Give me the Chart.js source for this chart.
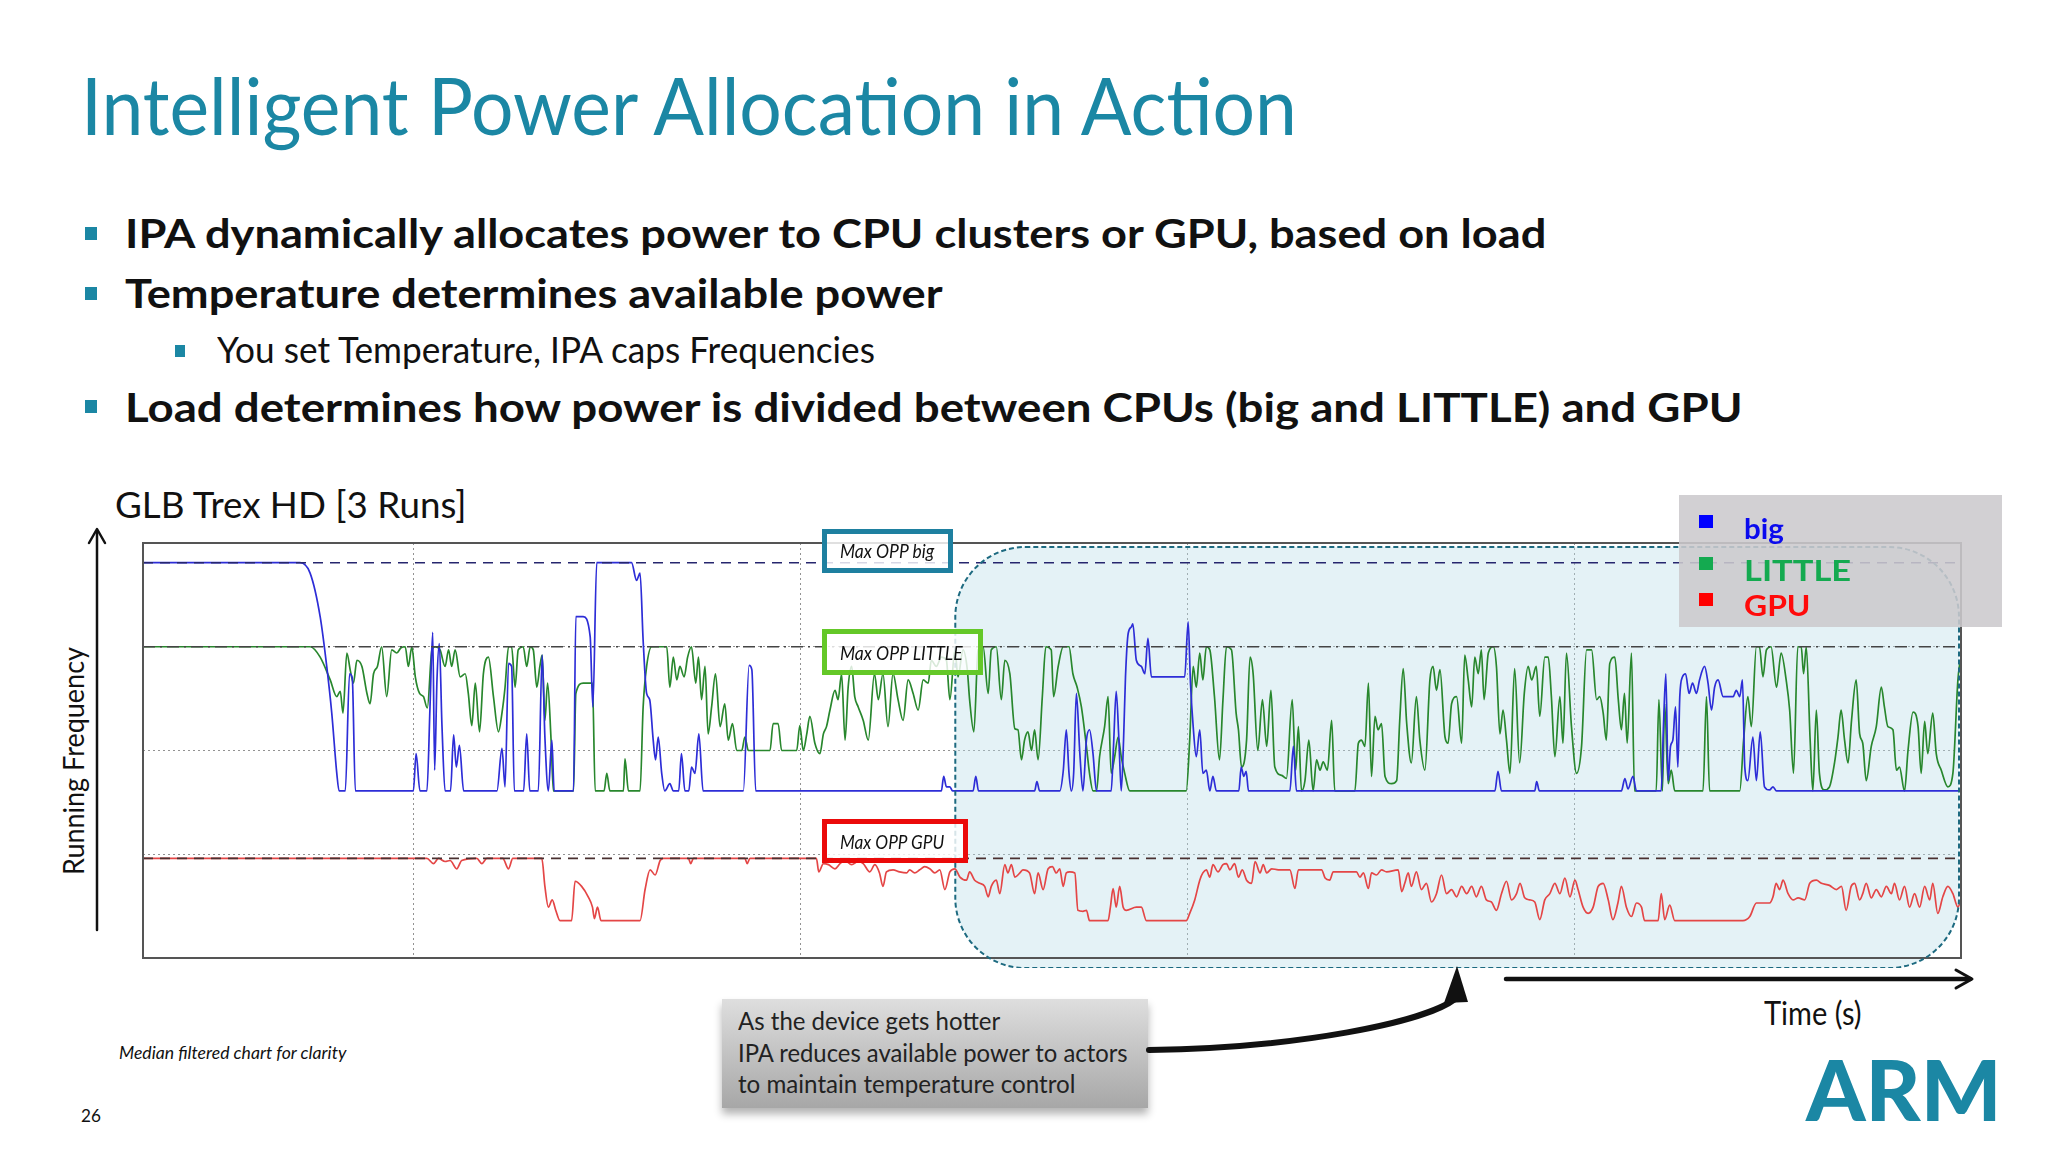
<!DOCTYPE html>
<html>
<head>
<meta charset="utf-8">
<script src="https://cdn.jsdelivr.net/npm/chart.js@4/dist/chart.umd.min.js"></script>
<style>
  body { margin: 0; width: 2048px; height: 1152px; background: #fff; position: relative; overflow: hidden; font-family: Lato, "Noto Sans", sans-serif; color: #111; }
  .t { position: absolute; white-space: nowrap; line-height: 1; transform-origin: 0 0; }
  .teal { color: #1b87a4; }
  .b { font-weight: 700; }
  .sq { position: absolute; background: #1b87a4; }
  #chart { position: absolute; left: 133px; top: 533px; }
  .opp { position: absolute; box-sizing: border-box; border: 5px solid; background: rgba(255,255,255,0.82); z-index: 3; }
  .oppt { font-style: italic; font-size: 19px; z-index: 4; }
  #legend { position: absolute; left: 1679px; top: 495px; width: 323px; height: 132px; background: rgba(204,202,205,0.88); z-index: 3; }
  .lg { position: absolute; width: 14px; height: 13px; z-index: 4; }
  .lt { font-size: 28px; font-weight: 700; z-index: 4; }
  #callout { position: absolute; left: 722px; top: 999px; width: 426px; height: 109px; background: linear-gradient(#dedede, #a7a7a7); box-shadow: 0 6px 8px rgba(0,0,0,0.3); }
  .ct { font-size: 25px; color: #222; z-index: 2; }
  svg { position: absolute; left: 0; top: 0; z-index: 5; }
</style>
</head>
<body>

<div class="t teal" style="font-size:80px;left:81px;top:64px" data-w="1216">Intelligent Power Allocation in Action</div>

<div class="sq" style="left:85px;top:227px;width:12px;height:13px"></div>
<div class="t b" style="font-size:40px;left:125px;top:213px" data-w="1421">IPA dynamically allocates power to CPU clusters or GPU, based on load</div>
<div class="sq" style="left:85px;top:287px;width:12px;height:13px"></div>
<div class="t b" style="font-size:40px;left:125px;top:273px" data-w="818">Temperature determines available power</div>
<div class="sq" style="left:175px;top:345px;width:10px;height:12px"></div>
<div class="t" style="font-size:36px;left:217px;top:331px" data-w="658">You set Temperature, IPA caps Frequencies</div>
<div class="sq" style="left:85px;top:400px;width:12px;height:13px"></div>
<div class="t b" style="font-size:40px;left:125px;top:387px" data-w="1617">Load determines how power is divided between CPUs (big and LITTLE) and GPU</div>

<div class="t" style="font-size:36px;left:115px;top:486px" data-w="351">GLB Trex HD [3 Runs]</div>
<div style="position:absolute;left:72px;top:761px;width:0;height:0">
  <div class="t" id="ylab" style="font-size:29px;transform-origin:50% 50%" data-w="228" data-rot="1">Running Frequency</div>
</div>

<canvas id="chart" width="1838" height="435"></canvas>

<div class="opp" style="left:822px;top:529px;width:131px;height:44px;border-color:#1e80a0"></div>
<div class="t oppt" style="left:840px;top:541px" data-w="94">Max OPP big</div>
<div class="opp" style="left:822px;top:629px;width:161px;height:46px;border-color:#64c828"></div>
<div class="t oppt" style="left:840px;top:643px" data-w="123">Max OPP LITTLE</div>
<div class="opp" style="left:822px;top:819px;width:146px;height:44px;border-color:#eb0a0a"></div>
<div class="t oppt" style="left:840px;top:832px" data-w="104">Max OPP GPU</div>

<div id="legend"></div>
<div class="lg" style="left:1699px;top:515px;background:#0000ff"></div>
<div class="t lt" style="left:1744px;top:514px;color:#0a0aee" data-w="40">big</div>
<div class="lg" style="left:1699px;top:557px;background:#14aa50"></div>
<div class="t lt" style="left:1744px;top:556px;color:#14aa50" data-w="107">LITTLE</div>
<div class="lg" style="left:1699px;top:593px;background:#ff0000"></div>
<div class="t lt" style="left:1744px;top:591px;color:#ff0a0a" data-w="66">GPU</div>

<div class="t" style="font-size:32px;left:1764px;top:997px" data-w="98">Time (s)</div>

<div id="callout"></div>
<div class="t ct" style="left:738px;top:1008px" data-w="262">As the device gets hotter</div>
<div class="t ct" style="left:738px;top:1040px" data-w="390">IPA reduces available power to actors</div>
<div class="t ct" style="left:738px;top:1071px" data-w="337">to maintain temperature control</div>

<div class="t" style="font-size:18px;font-style:italic;left:119px;top:1043px" data-w="227">Median filtered chart for clarity</div>
<div class="t" style="font-size:18px;left:81px;top:1106px" data-w="20">26</div>
<div class="t teal" style="font-size:84px;font-weight:900;left:1806px;top:1047px" data-w="195">ARM</div>

<svg width="2048" height="1152">
  <g stroke="#111" fill="none" stroke-linecap="round" stroke-linejoin="round">
    <line x1="97" y1="930" x2="97" y2="531" stroke-width="2.5"/>
    <polyline points="89,543 97,529 105,543" stroke-width="2.5"/>
    <line x1="1506" y1="979" x2="1970" y2="979" stroke-width="4.5"/>
    <polyline points="1956,970 1972,979 1956,988" stroke-width="3"/>
    <path d="M1149,1050 C1300,1048 1425,1022 1455,999" stroke-width="6"/>
  </g>
  <polygon points="1457,966 1444,1003 1468,1002" fill="#111"/>
</svg>

<script>
// axis ranges and grid (time units, frequency units)
const xMin = 0, xMax = 470;
const xGrid = [70, 170, 270, 370];
const yMin = 0, yMax = 4;
const yGrid = [1, 2, 3];

// max operating points
const oppBig = 3.81;
const oppLittle = 3.0;
const oppGpu = 0.96;

// start of the "device gets hotter" zone
const hotStart = 210;

// big cluster frequency [time, freq]
const bigTrace = [[0,3.81],[40.6,3.81],[43.2,3.71],[45.8,3.29],[47.5,2.81],[48.8,2.36],[50.1,1.78],[50.7,1.61],[52.3,1.61],[53.4,2.74],[54.1,2.70],[54.9,1.61],[69.9,1.61],[70.6,1.97],[71.6,1.61],[73.4,1.61],[74.2,2.42],[74.9,3.14],[75.4,1.81],[76,2.68],[76.6,3.03],[77.3,2.23],[78.1,1.61],[79.5,1.61],[80.3,2.15],[81,1.84],[81.8,2.05],[82.9,1.61],[91.5,1.61],[92.8,2.02],[93.6,1.65],[94.5,2.84],[95.3,2.81],[96,1.61],[98.4,1.61],[99.2,2.16],[100,1.61],[102.2,1.61],[103.2,2.92],[103.9,2.13],[104.8,1.61],[105.7,2.10],[106.3,1.61],[111.3,1.61],[111.9,3.29],[113.8,3.29],[115.6,3.10],[116.3,2.42],[117.3,3.81],[126.3,3.81],[127.6,3.64],[128.5,3.71],[129.3,3.06],[130.2,2.55],[131,2.49],[131.9,2.10],[132.5,1.91],[133.2,2.13],[134.1,1.78],[134.9,1.61],[136.2,1.68],[137.1,1.61],[138.5,1.61],[139.2,1.97],[140.1,1.61],[141.1,1.61],[141.8,1.84],[142.7,1.78],[143.7,2.16],[144.8,1.61],[155.2,1.61],[156.7,2.82],[157.4,2.78],[158.4,1.61],[206.4,1.61],[207,1.75],[207.7,1.65],[208.6,1.65],[209.3,1.61],[214.6,1.61],[215.3,1.75],[216,1.61],[230.5,1.61],[231.1,1.70],[231.8,1.61],[237,1.61],[237.9,1.80],[238.7,2.20],[239.4,1.78],[240,1.61],[240.6,1.78],[241.3,2.55],[242.2,1.97],[243,1.61],[243.9,2.10],[244.7,2.20],[245.6,1.97],[246.5,1.61],[250.3,1.61],[250.9,2.04],[251.6,2.57],[252.3,2.10],[252.9,1.61],[253.5,2.10],[254,2.71],[254.7,3.13],[255.5,3.19],[255.9,3.22],[256.8,2.87],[258.1,2.81],[259,2.74],[259.8,3.08],[260.7,2.71],[269.3,2.71],[270.2,3.24],[270.8,2.65],[271.5,2.23],[272.3,1.94],[273.2,2.20],[274,1.78],[274.9,1.81],[275.8,1.61],[276.6,1.75],[277.5,1.61],[283.3,1.61],[283.9,1.84],[284.6,1.75],[285.2,1.80],[285.8,1.61],[296.5,1.61],[297.4,2.04],[298.2,1.61],[349.5,1.61],[350.3,1.80],[351.2,1.61],[359.8,1.61],[360.3,1.70],[361,1.61],[382.2,1.61],[383.1,1.73],[383.9,1.63],[385.2,1.75],[386.1,1.61],[392.5,1.61],[393.1,2.26],[393.7,2.74],[394.3,1.71],[394.9,2.04],[395.5,2.10],[396.2,2.42],[396.8,1.84],[397.3,2.52],[398,2.71],[398.8,2.74],[399.7,2.55],[400.6,2.65],[401.6,2.55],[402.4,2.68],[403.7,2.81],[404.6,2.65],[405.5,2.39],[406.3,2.61],[407.2,2.68],[408.5,2.52],[411.1,2.52],[411.9,2.58],[412.8,2.52],[413.5,2.68],[414.1,1.84],[414.9,1.71],[416.2,2.13],[417.1,1.71],[418.1,2.18],[419.2,1.65],[420.5,1.62],[421.4,1.65],[422.3,1.61],[470,1.61]];

// LITTLE cluster frequency [time, freq]
const littleTrace = [[0,3.00],[43.2,3.00],[45.8,2.90],[48.4,2.68],[50.1,2.52],[51,2.57],[51.7,2.36],[52.7,2.94],[53.6,2.77],[54.4,2.65],[55.3,2.87],[56.6,2.81],[57.9,2.55],[58.7,2.45],[59.6,2.74],[60.6,2.81],[61.7,3.00],[63,2.52],[64.3,2.97],[65.6,2.94],[66.7,2.99],[67.8,3.00],[68.6,2.81],[69.5,3.00],[70.4,2.71],[71.5,2.55],[72.5,2.52],[73.5,2.41],[74.7,2.97],[75.5,3.00],[76.8,2.97],[78.1,2.81],[79,2.97],[79.8,2.81],[80.7,2.97],[82,2.71],[83.3,2.74],[84.1,2.55],[85,2.24],[85.9,2.65],[87,2.18],[88,2.74],[89.3,2.90],[90.6,2.52],[91.9,2.18],[92.8,2.36],[93.6,2.61],[94.5,3.00],[95.3,3.00],[96.2,2.61],[97,2.97],[98.3,3.00],[99.2,2.81],[100.1,3.00],[100.9,2.97],[101.8,2.61],[102.6,2.81],[103.2,2.92],[103.9,2.29],[104.6,2.65],[105.5,2.10],[106.1,1.61],[111.3,1.61],[111.9,2.55],[113.8,2.65],[116.2,2.65],[116.9,1.61],[119.2,1.61],[119.9,1.78],[120.7,1.61],[124.2,1.61],[124.6,1.92],[125.5,1.61],[128.5,1.61],[129.3,2.42],[130.2,2.81],[131.5,3.00],[135.4,3.00],[136.2,2.61],[137.1,2.90],[138,2.68],[138.8,2.81],[139.9,2.71],[140.8,2.90],[141.8,3.00],[142.9,2.65],[143.6,2.90],[144.4,2.49],[145.3,2.81],[146.1,2.16],[147,2.42],[148,2.74],[149.2,2.23],[150.4,2.45],[151.3,2.10],[152.4,2.26],[153.5,2.00],[154.8,2.00],[155.6,2.13],[156.5,2.00],[162.1,2.00],[162.9,2.26],[164.2,2.26],[165.1,2.00],[169,2.00],[169.8,2.24],[170.7,2.00],[171.6,2.16],[172.4,2.33],[173.7,2.07],[175,1.97],[175.9,2.16],[176.7,2.23],[177.6,2.39],[178.9,2.58],[179.7,2.49],[180.6,2.74],[181.5,2.10],[182.3,2.61],[183.2,2.81],[184,2.52],[184.9,2.42],[186.2,2.29],[187.5,2.10],[189.1,2.74],[190.1,2.49],[191.3,2.74],[192.6,2.23],[193.9,2.74],[195.2,2.49],[196.5,2.29],[197.8,2.68],[199.1,2.55],[200.4,2.39],[201.7,2.68],[203,2.65],[203.8,2.87],[205.1,2.81],[206.4,2.90],[207.7,2.87],[208.6,2.49],[209.9,2.97],[210.7,2.71],[212,2.97],[213.1,2.78],[213.7,2.49],[214.8,2.18],[215.9,2.97],[217.2,3.00],[218.5,2.55],[219.3,2.97],[220.6,3.00],[221.9,2.49],[222.8,2.87],[224.1,2.74],[225.4,2.21],[226.2,2.20],[227.1,1.91],[227.9,2.10],[228.8,2.18],[229.7,2.00],[230.5,2.20],[231.4,1.91],[232.5,2.52],[233.4,3.00],[234.8,2.97],[235.4,2.52],[236.6,2.81],[237.9,3.00],[239.4,3.00],[240.4,2.74],[241.5,2.61],[242.6,2.42],[243.9,2.04],[244.7,1.78],[245.6,1.61],[246.5,1.61],[247.3,1.94],[248.6,2.23],[249.5,2.52],[250.3,1.78],[251.2,1.94],[252.1,2.13],[252.9,1.94],[253.8,1.78],[255.1,1.61],[269.7,1.61],[270.6,2.10],[271.5,2.81],[272.3,2.61],[273.2,2.94],[274,2.68],[274.9,3.00],[275.8,2.97],[277,2.52],[278.3,1.91],[279.2,2.49],[280.1,3.00],[281.4,2.97],[282.6,2.36],[283.2,2.20],[284,1.84],[285.3,2.10],[286.2,2.90],[287,2.74],[288.2,2.00],[289.4,2.49],[290.5,2.04],[291.6,2.58],[292.6,1.84],[294.4,1.76],[295.6,1.73],[297.1,2.49],[298,1.81],[298.7,2.23],[299.5,1.61],[300.4,1.71],[301.4,2.10],[302.5,1.61],[303.4,1.91],[304.3,1.81],[305.1,1.89],[306.2,1.81],[307.3,2.29],[308.1,1.61],[313.3,1.61],[314.2,2.07],[315,2.10],[315.9,2.04],[316.8,2.65],[317.6,1.75],[318.5,2.33],[319.3,2.20],[320.2,2.26],[321.1,1.75],[322.8,1.68],[324.1,1.71],[324.9,2.29],[325.8,2.79],[326.7,2.26],[327.9,1.88],[329.2,2.52],[330.1,2.10],[331.4,1.81],[332.7,2.68],[333.5,2.81],[334.4,2.58],[335.3,2.78],[336.6,2.13],[337.4,2.07],[338.3,2.45],[339.6,2.52],[340.9,2.07],[341.7,2.92],[342.6,2.68],[343.5,2.42],[344.3,2.90],[345.2,2.74],[346,2.97],[346.7,2.49],[347.8,2.94],[349.1,3.00],[349.9,2.81],[350.8,2.16],[351.6,2.39],[352.5,2.10],[353.4,1.78],[354.6,2.79],[355.9,1.88],[357.1,2.55],[358.1,2.81],[359,2.68],[360.2,2.81],[361.1,2.33],[362.4,2.90],[363.3,2.90],[364.1,2.52],[365,1.94],[366.3,2.52],[367.1,2.07],[368,2.94],[369.3,2.23],[370.6,1.78],[371.9,2.04],[373.2,2.97],[374.5,2.97],[375.8,2.49],[376.6,2.52],[377.5,2.36],[378.3,2.10],[379.2,2.84],[380.5,2.90],[381.4,2.49],[382.2,2.20],[383,2.55],[383.7,2.07],[384.8,2.94],[385.6,1.61],[391.2,1.61],[391.9,2.49],[392.8,1.61],[393.4,2.45],[394.3,1.68],[395.1,1.81],[396,1.61],[403.3,1.61],[404.2,2.52],[405,1.61],[412.8,1.61],[413.8,2.10],[414.9,2.52],[415.8,2.23],[417.1,3.00],[417.9,3.00],[418.8,2.71],[419.7,2.97],[420.9,3.00],[422.3,2.61],[423.5,2.94],[424.8,2.68],[425.7,2.39],[426.7,1.78],[427.8,3.00],[428.7,3.00],[429.3,2.74],[430,3.00],[431,2.10],[431.7,1.61],[432.6,2.39],[433.4,1.78],[434.7,1.62],[436,1.65],[437.3,1.88],[438.2,2.13],[439,2.39],[439.9,2.10],[440.8,1.88],[441.7,2.29],[442.9,2.68],[443.8,2.16],[444.6,2.07],[445.5,1.71],[446.8,2.04],[448.1,2.23],[449.4,2.61],[450.2,2.42],[451.1,2.23],[452.4,2.20],[453.3,1.81],[454.1,1.84],[455.4,1.61],[456.3,2.00],[457.6,2.37],[458.9,2.23],[459.7,1.78],[460.6,2.28],[461.4,1.97],[462.7,2.36],[463.6,1.97],[464.9,1.81],[466.6,1.65],[467.9,1.78],[469.2,2.68],[469.8,2.87]];

// GPU frequency [time, freq]
const gpuTrace = [[0,0.96],[73.4,0.96],[75.1,0.91],[76.4,0.96],[78.1,0.93],[79.4,0.94],[81.1,0.86],[82.4,0.94],[86.3,0.96],[87.6,0.91],[88.9,0.96],[93,0.96],[94.5,0.86],[95.6,0.96],[103.1,0.96],[103.9,0.69],[104.8,0.49],[105.8,0.56],[106.7,0.46],[107.8,0.36],[110.8,0.36],[111.7,0.74],[113.4,0.69],[115.1,0.59],[116.2,0.49],[116.7,0.38],[117.5,0.49],[118.4,0.36],[128.5,0.36],[129.8,0.66],[131.1,0.85],[132.4,0.80],[133.7,0.94],[134.5,0.96],[141,0.96],[141.6,0.91],[142.3,0.96],[155.6,0.96],[156.2,0.91],[156.9,0.96],[174.1,0.96],[174.7,0.83],[175.9,0.91],[177.2,0.90],[178.9,0.86],[180.2,0.91],[181.5,0.94],[183.2,0.90],[184.9,0.93],[186.2,0.91],[187.9,0.83],[189.2,0.90],[190.4,0.82],[191.3,0.69],[192.2,0.83],[193.9,0.85],[195.6,0.83],[197.4,0.82],[198.2,0.85],[199.5,0.82],[200.8,0.85],[202.1,0.88],[203.4,0.86],[204.7,0.82],[206,0.85],[207.3,0.66],[208.6,0.83],[209.9,0.86],[211.2,0.78],[212.9,0.75],[213.7,0.83],[215,0.75],[216.3,0.72],[217.6,0.69],[218.5,0.59],[219.3,0.69],[220.6,0.75],[221.5,0.62],[222.8,0.90],[223.6,0.82],[224.5,0.90],[225.4,0.78],[226.7,0.82],[227.5,0.85],[229.2,0.82],[230.5,0.62],[231.4,0.82],[232.7,0.66],[234,0.86],[235.1,0.88],[236.1,0.82],[237,0.86],[237.9,0.69],[238.7,0.82],[239.6,0.83],[240.9,0.82],[241.7,0.46],[243,0.45],[243.9,0.46],[244.7,0.36],[249.5,0.36],[250.1,0.49],[250.8,0.67],[251.6,0.49],[252.5,0.69],[253.4,0.49],[254.2,0.46],[256.8,0.49],[258.1,0.49],[259.4,0.36],[269.7,0.36],[270.6,0.43],[271.9,0.56],[273.2,0.75],[274,0.82],[274.9,0.85],[275.8,0.78],[276.6,0.90],[277.9,0.83],[279.2,0.90],[280.1,0.91],[281,0.85],[282.2,0.91],[283.2,0.78],[284.2,0.85],[285.3,0.75],[286.6,0.72],[287.5,0.93],[288.8,0.82],[289.6,0.90],[290.5,0.82],[291.8,0.86],[293.5,0.85],[296.5,0.85],[297.8,0.67],[298.7,0.85],[304.7,0.85],[305.6,0.77],[306.8,0.75],[307.7,0.83],[313.7,0.83],[314.6,0.78],[315.5,0.82],[316.8,0.67],[317.6,0.82],[318.9,0.80],[320.2,0.85],[321.5,0.83],[324.5,0.85],[325.4,0.64],[326.2,0.72],[327.1,0.82],[327.9,0.69],[329.2,0.83],[330.5,0.66],[331.8,0.72],[333.1,0.54],[334.4,0.62],[335.7,0.80],[337,0.62],[338.3,0.66],[339.6,0.59],[340.9,0.69],[342.2,0.62],[343.5,0.69],[344.7,0.59],[346,0.69],[347.3,0.56],[348.6,0.54],[349.9,0.46],[351.2,0.62],[352.5,0.74],[353.8,0.56],[355.1,0.62],[356,0.72],[357.2,0.58],[358.5,0.56],[359.8,0.54],[361.1,0.37],[362.4,0.56],[363.7,0.62],[365,0.72],[366.3,0.62],[367.6,0.77],[368.9,0.59],[370.2,0.75],[371,0.66],[372.3,0.49],[373.6,0.43],[374.9,0.49],[376.2,0.69],[377.5,0.72],[378.8,0.56],[380,0.37],[381.3,0.53],[382.2,0.69],[383.5,0.49],[384.8,0.40],[386.1,0.53],[387.4,0.49],[388.2,0.36],[391.7,0.36],[392.5,0.62],[393.4,0.37],[394.7,0.51],[396,0.36],[413.6,0.36],[415.4,0.40],[417.1,0.53],[420.5,0.53],[421.4,0.59],[422.2,0.72],[423.1,0.66],[424,0.75],[425.3,0.62],[426.6,0.56],[427.9,0.58],[429.6,0.56],[430.9,0.72],[432.6,0.75],[433.9,0.72],[436,0.70],[437.8,0.66],[439.1,0.69],[440.3,0.46],[441.6,0.69],[442.5,0.72],[443.8,0.56],[444.6,0.62],[445.5,0.72],[446.8,0.58],[448.1,0.66],[449.4,0.59],[450.7,0.69],[452,0.62],[452.8,0.72],[454.1,0.56],[455.4,0.69],[456.7,0.49],[458,0.62],[459.3,0.49],[460.6,0.69],[461.9,0.56],[462.7,0.72],[464,0.43],[465.3,0.59],[466.6,0.69],[467.9,0.62],[469.2,0.49],[470,0.56]];

// fit text widths to the slide
function fitText() {
    document.querySelectorAll("[data-w]").forEach(el => {
        const k = el.dataset.w / el.offsetWidth;
        if (el.dataset.rot) {
            el.style.transform = "translate(-50%, -50%) rotate(-90deg) scaleX(" + k + ")";
        } else {
            el.style.transform = "scaleX(" + k + ")";
        }
    });
}
fitText();
if (document.fonts) document.fonts.ready.then(fitText);

function toXY(pts) {
    return pts.map(([x, y]) => ({ x: x, y: y }));
}

function flatLine(y) {
    return [{ x: xMin, y: y }, { x: xMax, y: y }];
}

const hotZone = {
    id: "hotZone",
    beforeDatasetsDraw(chart) {
        const { ctx, chartArea: a, scales } = chart;
        const left = scales.x.getPixelForValue(hotStart);
        ctx.save();
        ctx.beginPath();
        ctx.roundRect(left, a.top + 4, a.right - 2 - left, a.bottom + 10 - a.top - 4, 70);
        ctx.fillStyle = "rgba(185, 220, 232, 0.38)";
        ctx.fill();
        ctx.restore();
    },
    afterDatasetsDraw(chart) {
        const { ctx, chartArea: a, scales } = chart;
        ctx.save();
        ctx.strokeStyle = "#555";
        ctx.lineWidth = 2;
        ctx.strokeRect(a.left, a.top, a.right - a.left, a.bottom - a.top);

        const left = scales.x.getPixelForValue(hotStart);
        ctx.beginPath();
        ctx.roundRect(left, a.top + 4, a.right - 2 - left, a.bottom + 10 - a.top - 4, 70);
        ctx.setLineDash([5, 3]);
        ctx.strokeStyle = "#1d6a80";
        ctx.lineWidth = 2;
        ctx.stroke();
        ctx.restore();
    },
};

new Chart(document.getElementById("chart").getContext("2d"), {
    type: "line",
    data: {
        datasets: [
            {
                label: "Max OPP big",
                data: flatLine(oppBig),
                borderColor: "#26266e",
                borderWidth: 1.6,
                borderDash: [10, 7],
                order: 0,
            },
            {
                label: "Max OPP LITTLE",
                data: flatLine(oppLittle),
                borderColor: "#444",
                borderWidth: 1.6,
                borderDash: [12, 5, 2, 5],
                order: 0,
            },
            {
                label: "Max OPP GPU",
                data: flatLine(oppGpu),
                borderColor: "#4a3030",
                borderWidth: 1.6,
                borderDash: [10, 7],
                order: 0,
            },
            {
                label: "big",
                data: toXY(bigTrace),
                borderColor: "rgb(45, 45, 215)",
                borderWidth: 1.7,
                cubicInterpolationMode: "monotone",
                order: 1,
            },
            {
                label: "LITTLE",
                data: toXY(littleTrace),
                borderColor: "rgb(40, 135, 45)",
                borderWidth: 1.7,
                cubicInterpolationMode: "monotone",
                order: 2,
            },
            {
                label: "GPU",
                data: toXY(gpuTrace),
                borderColor: "rgb(228, 70, 70)",
                borderWidth: 1.7,
                cubicInterpolationMode: "monotone",
                order: 3,
            },
        ],
    },
    options: {
        responsive: false,
        animation: false,
        parsing: false,
        layout: { padding: 10 },
        elements: { point: { radius: 0 } },
        plugins: {
            legend: { display: false },
            tooltip: { enabled: false },
        },
        scales: {
            x: {
                type: "linear",
                min: xMin,
                max: xMax,
                afterBuildTicks: (axis) => { axis.ticks = xGrid.map(v => ({ value: v })); },
                ticks: { display: false },
                grid: { color: "rgba(110, 110, 110, 0.75)", lineWidth: 1, drawTicks: false },
                border: { display: false, dash: [2, 3] },
            },
            y: {
                type: "linear",
                min: yMin,
                max: yMax,
                afterBuildTicks: (axis) => { axis.ticks = yGrid.map(v => ({ value: v })); },
                ticks: { display: false },
                grid: { color: "rgba(110, 110, 110, 0.75)", lineWidth: 1, drawTicks: false },
                border: { display: false, dash: [2, 3] },
            },
        },
    },
    plugins: [hotZone],
});
</script>
</body>
</html>
